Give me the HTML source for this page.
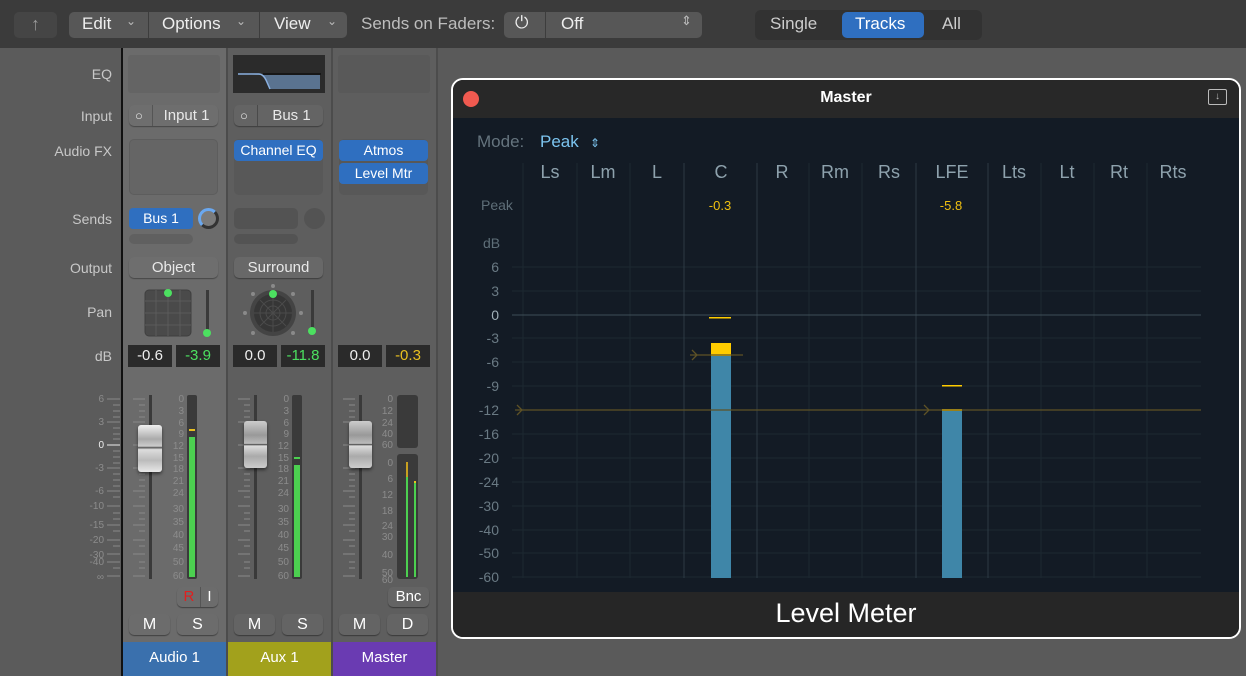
<!DOCTYPE html>
<html><head><meta charset="utf-8"><style>
*{margin:0;padding:0;box-sizing:border-box}
body{width:1246px;height:676px;background:#5a5a5a;position:relative;overflow:hidden;font-family:"Liberation Sans",sans-serif;}
.a{position:absolute}
.btn{position:absolute;background:#6e6e6e;border-radius:5px;color:#e8e8e8;font-size:15px;text-align:center;box-shadow:0 1px 1px rgba(0,0,0,.35)}
.lbl{position:absolute;right:1134px;color:#c8c8c8;font-size:14px;text-align:right;white-space:nowrap}
.blue{position:absolute;background:#2f6fc0;border-radius:4px;color:#fff;font-size:14px;text-align:center}
.db{position:absolute;background:#2a2a2a;font-size:15px;text-align:center;height:22px;line-height:22px}
.ms{position:absolute;background:#6c6c6c;border-radius:5px;color:#fff;font-size:16px;text-align:center;height:21px;line-height:21px;box-shadow:0 1px 1px rgba(0,0,0,.4)}
.tb{position:absolute;color:#eee;font-size:17px}
</style></head><body>
<div class="a" style="left:0;top:0;width:1246px;height:48px;background:#3b3b3b"></div>
<div class="a" style="left:14px;top:12px;width:43px;height:26px;background:#454545;border-radius:5px;color:#999;font-size:18px;text-align:center;line-height:25px">↑</div>
<div class="a" style="left:69px;top:12px;width:278px;height:26px;background:#575757;border-radius:5px"></div>
<div class="a" style="left:148px;top:12px;width:1px;height:26px;background:#3d3d3d"></div>
<div class="a" style="left:259px;top:12px;width:1px;height:26px;background:#3d3d3d"></div>
<div class="tb" style="left:82px;top:14px">Edit</div><div class="tb" style="left:126px;top:14px;font-size:12px;color:#bbb">⌄</div>
<div class="tb" style="left:162px;top:14px">Options</div><div class="tb" style="left:236px;top:14px;font-size:12px;color:#bbb">⌄</div>
<div class="tb" style="left:274px;top:14px">View</div><div class="tb" style="left:327px;top:14px;font-size:12px;color:#bbb">⌄</div>
<div class="tb" style="left:361px;top:14px;color:#bdbdbd">Sends on Faders:</div>
<div class="a" style="left:504px;top:12px;width:198px;height:26px;background:#575757;border-radius:5px"></div>
<div class="a" style="left:545px;top:12px;width:1px;height:26px;background:#3d3d3d"></div>
<div class="tb" style="left:515px;top:13px">⏻</div>
<div class="tb" style="left:561px;top:14px">Off</div>
<div class="tb" style="left:681px;top:13px;font-size:13px;color:#bbb">⇕</div>
<div class="a" style="left:755px;top:10px;width:227px;height:30px;background:#323232;border-radius:6px"></div>
<div class="a" style="left:842px;top:12px;width:82px;height:26px;background:#2f6fc0;border-radius:5px"></div>
<div class="tb" style="left:770px;top:14px;color:#ccc">Single</div>
<div class="tb" style="left:855px;top:14px;color:#fff">Tracks</div>
<div class="tb" style="left:942px;top:14px;color:#ccc">All</div>

<div class="a" style="left:0;top:48px;width:121px;height:628px;background:#5b5b5b"></div>
<div class="a" style="left:121px;top:48px;width:2px;height:628px;background:#111"></div>
<div class="a" style="left:123px;top:48px;width:103px;height:594px;background:#6b6b6b"></div>
<div class="a" style="left:226px;top:48px;width:2px;height:628px;background:#4c4c4c"></div>
<div class="a" style="left:228px;top:48px;width:103px;height:594px;background:#5e5e5e"></div>
<div class="a" style="left:331px;top:48px;width:2px;height:628px;background:#4c4c4c"></div>
<div class="a" style="left:333px;top:48px;width:103px;height:594px;background:#5e5e5e"></div>
<div class="a" style="left:436px;top:48px;width:2px;height:628px;background:#4c4c4c"></div>

<div class="lbl" style="top:66px">EQ</div>
<div class="lbl" style="top:108px">Input</div>
<div class="lbl" style="top:143px">Audio FX</div>
<div class="lbl" style="top:211px">Sends</div>
<div class="lbl" style="top:260px">Output</div>
<div class="lbl" style="top:304px">Pan</div>
<div class="lbl" style="top:348px">dB</div>

<div class="a" style="left:128px;top:55px;width:92px;height:38px;background:#646464;border-radius:3px"></div>
<div class="a" style="left:233px;top:55px;width:92px;height:38px;background:#2b2b2b"></div>
<svg class="a" style="left:233px;top:55px" width="92" height="38"><path d="M5 19 L26 19 Q30 19 33 25 L37 34 L87 34 L87 20 L33 20 Z" fill="#5a7390"/><path d="M5 19 L26 19 Q30 19 33 25 L37 34" stroke="#8ab0e0" fill="none" stroke-width="1.5"/><path d="M30 19 L88 19" stroke="#111" stroke-width="1.5"/></svg>
<div class="a" style="left:338px;top:55px;width:92px;height:38px;background:#595959;border-radius:3px"></div>

<div class="btn" style="left:129px;top:105px;width:89px;height:21px;line-height:21px"><span style="position:absolute;left:6px;font-size:13px">○</span><span style="position:absolute;left:23px;top:0;width:1px;height:21px;background:#555"></span><span style="margin-left:26px">Input 1</span></div>
<div class="btn" style="left:234px;top:105px;width:89px;height:21px;line-height:21px;background:#646464"><span style="position:absolute;left:6px;font-size:13px">○</span><span style="position:absolute;left:23px;top:0;width:1px;height:21px;background:#4a4a4a"></span><span style="margin-left:26px">Bus 1</span></div>

<div class="a" style="left:129px;top:139px;width:89px;height:56px;background:#656565;border-radius:5px;border:1px solid #5d5d5d"></div>
<div class="a" style="left:234px;top:139px;width:89px;height:56px;background:#585858;border-radius:5px"></div>
<div class="blue" style="left:234px;top:140px;width:89px;height:21px;line-height:21px">Channel EQ</div>
<div class="a" style="left:339px;top:139px;width:89px;height:56px;background:#585858;border-radius:5px"></div>
<div class="blue" style="left:339px;top:140px;width:89px;height:21px;line-height:21px">Atmos</div>
<div class="blue" style="left:339px;top:163px;width:89px;height:21px;line-height:21px">Level Mtr</div>

<div class="blue" style="left:129px;top:208px;width:64px;height:21px;line-height:21px">Bus 1</div>
<div class="a" style="left:198px;top:208px;width:21px;height:21px;border-radius:50%;background:#7b7b7b;border:3px solid #6aa8f0;border-right-color:#333;border-bottom-color:#333"></div>
<div class="a" style="left:129px;top:234px;width:64px;height:10px;background:#606060;border-radius:5px"></div>
<div class="a" style="left:234px;top:208px;width:64px;height:21px;background:#535353;border-radius:5px"></div>
<div class="a" style="left:304px;top:208px;width:21px;height:21px;border-radius:50%;background:#535353"></div>
<div class="a" style="left:234px;top:234px;width:64px;height:10px;background:#535353;border-radius:5px"></div>

<div class="btn" style="left:129px;top:257px;width:89px;height:21px;line-height:21px">Object</div>
<div class="btn" style="left:234px;top:257px;width:89px;height:21px;line-height:21px;background:#686868">Surround</div>

<svg class="a" style="left:140px;top:284px" width="80" height="60">
<rect x="5" y="6" width="46" height="46" rx="4" fill="#4a4a4a" stroke="#3f3f3f"/>
<g stroke="#5b5b5b"><path d="M16 6V52M28 6V52M40 6V52M5 17H51M5 29H51M5 41H51"/></g>
<circle cx="28" cy="9" r="4" fill="#4ce060"/>
<rect x="66" y="6" width="3" height="44" fill="#3a3a3a"/><circle cx="67" cy="49" r="4" fill="#4ce060"/>
</svg>
<svg class="a" style="left:240px;top:282px" width="80" height="62">
<circle cx="33" cy="31" r="23" fill="#444"/><circle cx="33" cy="31" r="19" fill="#363636"/>
<g stroke="#4b4b4b" fill="none"><circle cx="33" cy="31" r="13"/><circle cx="33" cy="31" r="7"/><path d="M14 31H52M33 12V50M20 18L46 44M46 18L20 44"/></g>
<g fill="#8a8a8a"><circle cx="33" cy="4" r="2"/><circle cx="13" cy="12" r="2"/><circle cx="53" cy="12" r="2"/><circle cx="5" cy="31" r="2"/><circle cx="61" cy="31" r="2"/><circle cx="13" cy="51" r="2"/><circle cx="53" cy="51" r="2"/></g>
<circle cx="33" cy="12" r="4" fill="#4ce060"/>
<rect x="71" y="8" width="3" height="42" fill="#3a3a3a"/><circle cx="72" cy="49" r="4" fill="#4ce060"/>
</svg>

<div class="db" style="left:128px;top:345px;width:44px;color:#eee">-0.6</div>
<div class="db" style="left:176px;top:345px;width:44px;color:#4ce060">-3.9</div>
<div class="db" style="left:233px;top:345px;width:44px;color:#eee">0.0</div>
<div class="db" style="left:281px;top:345px;width:44px;color:#4ce060">-11.8</div>
<div class="db" style="left:338px;top:345px;width:44px;color:#eee">0.0</div>
<div class="db" style="left:386px;top:345px;width:44px;color:#e8c020">-0.3</div>

<svg class="a" style="left:0;top:385px" width="440" height="200" font-family="Liberation Sans" font-size="10" fill="#8c8c8c">
<g text-anchor="end">
<text x="104" y="17">6</text><text x="104" y="40">3</text><text x="104" y="63" fill="#eee">0</text><text x="104" y="86">-3</text><text x="104" y="109">-6</text><text x="104" y="124">-10</text><text x="104" y="143">-15</text><text x="104" y="158">-20</text><text x="104" y="173">-30</text><text x="104" y="180">-40</text><text x="104" y="195">∞</text>
</g>
<g stroke="#8a8a8a"><path d="M107 14H120M113 20H120M113 26H120M113 32H120M107 37H120M113 43H120M113 49H120M113 54H120M113 66H120M113 72H120M113 78H120M107 83H120M113 89H120M113 95H120M113 101H120M107 106H120M113 112H120M107 121H120M113 128H120M113 134H120M107 140H120M113 146H120M107 155H120M113 161H120M107 169H120M107 177H120M113 183H120M107 191H120"/><path d="M107 60H120" stroke="#eee"/></g>
<g stroke="#8a8a8a">
<path id="tk" d="M133 14H145M139 20H145M139 26H145M139 32H145M133 37H145M139 43H145M139 49H145M139 54H145M133 60H145M139 66H145M139 72H145M139 78H145M133 83H145M139 89H145M139 95H145M139 101H145M133 106H145M139 112H145M133 121H145M139 128H145M139 134H145M133 140H145M139 146H145M133 155H145M139 161H145M133 169H145M139 177H145M139 183H145M133 191H145"/>
<use href="#tk" x="105"/><use href="#tk" x="210"/>
</g>
<rect x="149" y="10" width="3" height="184" fill="#3a3a3a"/>
<rect x="254" y="10" width="3" height="184" fill="#3a3a3a"/>
<rect x="359" y="10" width="3" height="184" fill="#3a3a3a"/>
<rect x="187" y="10" width="10" height="184" fill="#3a3a3a" rx="2"/>
<rect x="189" y="52" width="6" height="140" fill="#4cd050"/><rect x="189" y="44" width="6" height="2" fill="#e8c020"/>
<rect x="292" y="10" width="10" height="184" fill="#3a3a3a" rx="2"/>
<rect x="294" y="80" width="6" height="112" fill="#4cd050"/><rect x="294" y="72" width="6" height="2" fill="#4cd050"/>
<rect x="397" y="10" width="21" height="53" fill="#3a3a3a" rx="3"/>
<rect x="397" y="69" width="21" height="125" fill="#3a3a3a" rx="3"/>
<rect x="406" y="77" width="2" height="115" fill="#c8a020"/><rect x="406" y="92" width="2" height="100" fill="#4cd050"/>
<rect x="414" y="98" width="2" height="94" fill="#4cd050"/><rect x="414" y="96" width="2" height="2" fill="#e8c020"/>
<g text-anchor="end" font-size="10">
<text x="184" y="17">0</text><text x="184" y="29">3</text><text x="184" y="41">6</text><text x="184" y="52">9</text><text x="184" y="64">12</text><text x="184" y="76">15</text><text x="184" y="87">18</text><text x="184" y="99">21</text><text x="184" y="111">24</text><text x="184" y="127">30</text><text x="184" y="140">35</text><text x="184" y="153">40</text><text x="184" y="166">45</text><text x="184" y="180">50</text><text x="184" y="194">60</text>
<g transform="translate(105,0)"><text x="184" y="17">0</text><text x="184" y="29">3</text><text x="184" y="41">6</text><text x="184" y="52">9</text><text x="184" y="64">12</text><text x="184" y="76">15</text><text x="184" y="87">18</text><text x="184" y="99">21</text><text x="184" y="111">24</text><text x="184" y="127">30</text><text x="184" y="140">35</text><text x="184" y="153">40</text><text x="184" y="166">45</text><text x="184" y="180">50</text><text x="184" y="194">60</text></g>
<text x="393" y="17">0</text><text x="393" y="29">12</text><text x="393" y="41">24</text><text x="393" y="52">40</text><text x="393" y="63">60</text>
<text x="393" y="81">0</text><text x="393" y="97">6</text><text x="393" y="113">12</text><text x="393" y="129">18</text><text x="393" y="144">24</text><text x="393" y="155">30</text><text x="393" y="173">40</text><text x="393" y="191">50</text><text x="393" y="198">60</text>
</g>
</svg>
<div class="a" style="left:138px;top:425px;width:24px;height:47px;border-radius:3px;background:linear-gradient(#f0f0f0,#aaa 30%,#ccc 45%,#555 48%,#ddd 52%,#bbb 75%,#e8e8e8);box-shadow:0 2px 3px rgba(0,0,0,.5)"></div>
<div class="a" style="left:244px;top:421px;width:23px;height:47px;border-radius:3px;background:linear-gradient(#ccc,#999 30%,#bbb 48%,#444 50%,#ddd 53%,#aaa 75%,#ccc);box-shadow:0 2px 3px rgba(0,0,0,.5)"></div>
<div class="a" style="left:349px;top:421px;width:23px;height:47px;border-radius:3px;background:linear-gradient(#ccc,#999 30%,#bbb 48%,#444 50%,#ddd 53%,#aaa 75%,#ccc);box-shadow:0 2px 3px rgba(0,0,0,.5)"></div>

<div class="ms" style="left:177px;top:587px;width:41px;height:20px;line-height:20px;font-size:15px"><span style="color:#e02020">R</span><span style="display:inline-block;width:1px;height:20px;background:#555;vertical-align:top;margin:0 6px"></span>I</div>
<div class="ms" style="left:388px;top:587px;width:41px;height:20px;line-height:20px;font-size:15px;background:#646464">Bnc</div>
<div class="ms" style="left:129px;top:614px;width:41px">M</div>
<div class="ms" style="left:177px;top:614px;width:41px">S</div>
<div class="ms" style="left:234px;top:614px;width:41px;background:#646464">M</div>
<div class="ms" style="left:282px;top:614px;width:41px;background:#646464">S</div>
<div class="ms" style="left:339px;top:614px;width:41px;background:#646464">M</div>
<div class="ms" style="left:387px;top:614px;width:41px;background:#646464">D</div>

<div class="a" style="left:123px;top:642px;width:103px;height:34px;background:#3a70ad;color:#fff;font-size:15px;text-align:center;line-height:32px">Audio 1</div>
<div class="a" style="left:228px;top:642px;width:103px;height:34px;background:#a2a11c;color:#fff;font-size:15px;text-align:center;line-height:32px">Aux 1</div>
<div class="a" style="left:333px;top:642px;width:103px;height:34px;background:#6a3bb2;color:#fff;font-size:15px;text-align:center;line-height:32px">Master</div>

<div class="a" style="left:451px;top:78px;width:790px;height:561px;border:2px solid #fff;border-radius:12px;background:#262626;overflow:hidden">
 <div class="a" style="left:0;top:0;width:786px;height:38px;background:#282828"></div>
 <div class="a" style="left:10px;top:11px;width:16px;height:16px;border-radius:50%;background:#f05a50"></div>
 <div class="a" style="left:0;top:9px;width:786px;text-align:center;color:#fff;font-size:16px;font-weight:bold">Master</div>
 <div class="a" style="left:755px;top:9px;width:19px;height:16px;border:1.5px solid #bbb;border-radius:2px;color:#bbb;font-size:10px;text-align:center;line-height:14px">↓</div>
 <div class="a" style="left:0;top:38px;width:786px;height:474px;background:#131b25"></div>
 <div class="a" style="left:0;top:512px;width:786px;height:47px;background:#262626;color:#fff;font-size:27px;text-align:center;line-height:42px">Level Meter</div>
</div>
<svg class="a" style="left:0;top:0" width="1246" height="676" font-family="Liberation Sans">
<text x="477" y="147" fill="#65747e" font-size="17">Mode:</text><text x="540" y="147" fill="#7cc4ef" font-size="17">Peak</text><text x="590" y="147" fill="#7cc4ef" font-size="12">⇕</text>
<g fill="#8ea2ad" font-size="18" text-anchor="middle">
<text x="550" y="178">Ls</text><text x="603" y="178">Lm</text><text x="657" y="178">L</text><text x="721" y="178">C</text><text x="782" y="178">R</text><text x="835" y="178">Rm</text><text x="889" y="178">Rs</text><text x="952" y="178">LFE</text><text x="1014" y="178">Lts</text><text x="1067" y="178">Lt</text><text x="1119" y="178">Rt</text><text x="1173" y="178">Rts</text>
</g>
<text x="481" y="210" fill="#5e6e78" font-size="14">Peak</text>
<text x="483" y="248" fill="#5e6e78" font-size="14">dB</text>
<text x="720" y="210" fill="#f0c010" font-size="13" text-anchor="middle">-0.3</text>
<text x="951" y="210" fill="#f0c010" font-size="13" text-anchor="middle">-5.8</text>
<g stroke="#1d2831" stroke-width="1">
<path d="M523 163V578M577 163V578M630 163V578M809 163V578M862 163V578M1041 163V578M1094 163V578M1147 163V578"/>
<path d="M512 267H1201M512 291H1201M512 338H1201M512 362H1201M512 386H1201M512 434H1201M512 458H1201M512 482H1201M512 506H1201M512 530H1201M512 553H1201M512 577H1201"/>
</g>
<g stroke="#2c3a44"><path d="M684 163V578M757 163V578M916 163V578M988 163V578"/><path d="M512 315H1201" stroke="#3e4e57"/></g>
<g fill="#6a7a84" font-size="14" text-anchor="end">
<text x="499" y="272">6</text><text x="499" y="296">3</text><text x="499" y="320" fill="#a0b0b8">0</text><text x="499" y="343">-3</text><text x="499" y="367">-6</text><text x="499" y="391">-9</text><text x="499" y="415">-12</text><text x="499" y="439">-16</text><text x="499" y="463">-20</text><text x="499" y="487">-24</text><text x="499" y="511">-30</text><text x="499" y="535">-40</text><text x="499" y="558">-50</text><text x="499" y="582">-60</text>
</g>
<rect x="711" y="356" width="20" height="222" fill="#3f86a8"/>
<rect x="711" y="343" width="20" height="13" fill="#ffcc00"/>
<rect x="709" y="317" width="22" height="1.5" fill="#ffcc00"/>
<rect x="942" y="411" width="20" height="167" fill="#3f86a8"/>
<rect x="942" y="409" width="20" height="2" fill="#ffcc00"/>
<rect x="942" y="385" width="20" height="1.5" fill="#ffcc00"/>
<g stroke="#5e5226" fill="none" stroke-width="1.3">
<path d="M515 410H1201"/><path d="M517 405L522 410L517 415"/><path d="M924 405L929 410L924 415"/>
<path d="M690 355H743"/><path d="M692 350L697 355L692 360"/>
</g>
</svg>
</body></html>
